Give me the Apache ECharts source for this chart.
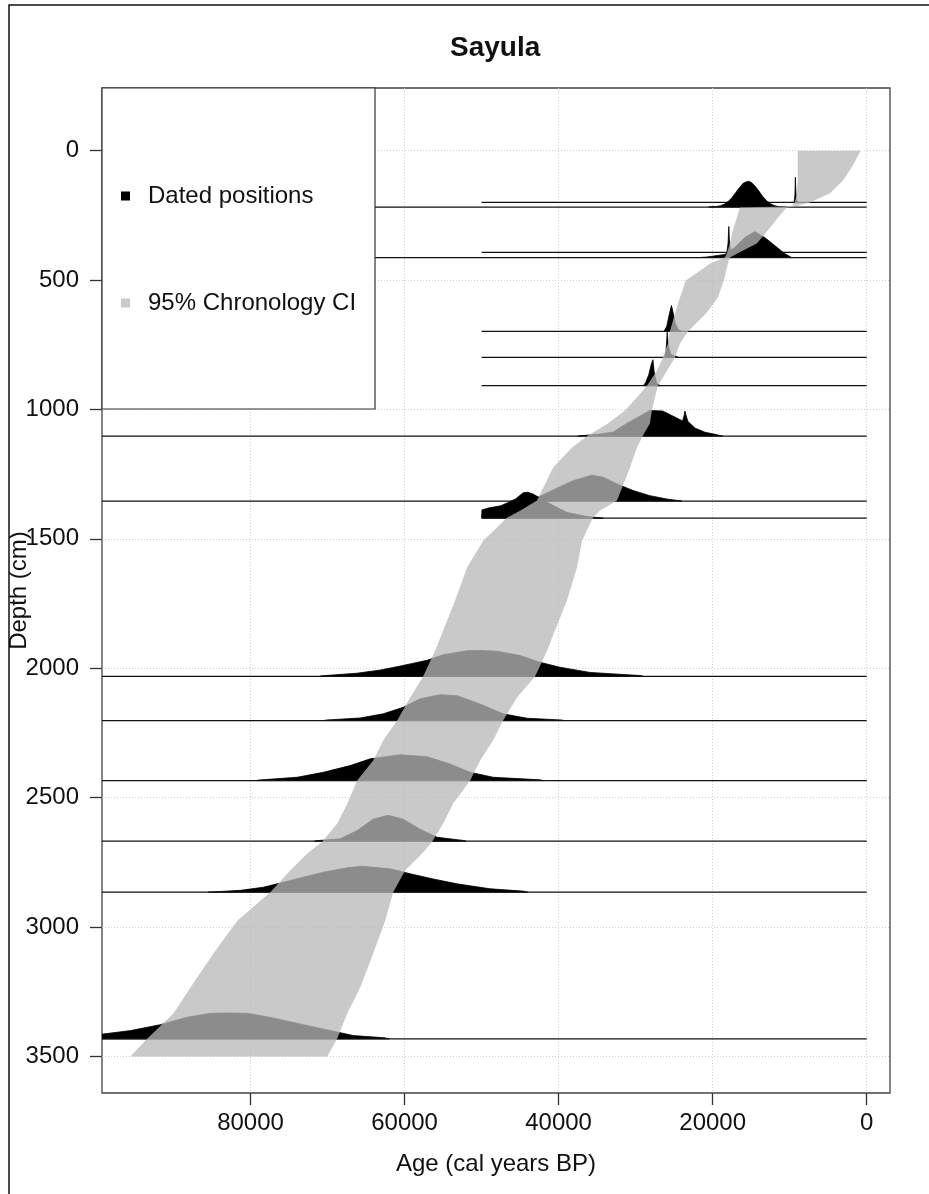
<!DOCTYPE html>
<html><head><meta charset="utf-8">
<script src="https://cdn.jsdelivr.net/npm/echarts@6/dist/echarts.min.js"></script>
<style>html,body{margin:0;padding:0;background:#fff}#chart{width:929px;height:1194px}</style>
</head><body><div id="chart"></div>
<script>
const chartTitle = 'Sayula';
const xName = 'Age (cal years BP)';
const yName = 'Depth (cm)';
const legendNames = ['Dated positions', '95% Chronology CI'];
const xTicks = [0, 20000, 40000, 60000, 80000];
const yTicks = [0, 500, 1000, 1500, 2000, 2500, 3000, 3500];

// dated positions (depth, cm) and oldest age of each date's baseline
const dateDepths = [200, 218, 393, 413, 698, 799, 908, 1103, 1354, 1420, 2031, 2202, 2434, 2668, 2865, 3432];
const dateLineOldest = [50000, 120000, 50000, 120000, 50000, 50000, 50000, 120000, 120000, 50000, 120000, 120000, 120000, 120000, 120000, 120000];

// density outlines: [age, height in cm above the baseline]
const dens200 = [[9420,0],[9320,30],[9260,97],[9200,45],[9120,10],[9000,2],[8850,0]];
const dens218 = [[20500,0],[19500,2],[19000,5],[18500,11],[18000,21],[17500,36],[17000,56],[16500,76],[16000,93],[15400,100],[15000,96],[14500,81],[14000,62],[13500,41],[13000,24],[12500,13],[12000,6],[11500,2],[10500,0]];
const dens393 = [[18150,0],[18000,35],[17900,100],[17830,50],[17700,10],[17500,0]];
const dens413 = [[21700,0],[20750,2],[18420,12],[17120,39],[15820,77],[14530,100],[13230,77],[11930,46],[10640,15],[9730,0]];
const dens698 = [[26300,0],[25950,20],[25600,70],[25350,100],[25150,75],[24850,30],[24450,6],[24000,0]];
const dens799 = [[26250,0],[26050,25],[25900,97],[25750,45],[25450,12],[25050,7],[24650,3],[24400,0]];
const dens908 = [[29000,0],[28700,12],[28300,42],[27950,85],[27750,100],[27600,55],[27300,12],[27000,3],[26800,0]];
const dens1103 = [[37500,0],[36800,2],[34600,8],[32900,16],[31100,50],[29700,73],[28800,88],[28150,99],[26500,97],[24650,70],[23900,58],[23700,80],[23600,97],[23450,80],[23200,56],[22300,31],[21000,15],[19700,7],[18700,0]];
const dens1354 = [[43500,0],[42800,13],[40250,50],[38100,79],[35700,100],[34200,92],[32400,66],[30350,41],[28150,21],[25950,8],[24000,0]];
const dens1420 = [[50000,0],[49950,32],[49000,40],[47500,48],[46600,60],[45600,74],[44600,98],[44000,100],[43300,93],[41500,61],[38900,22],[36300,6],[34200,0]];
const dens2031 = [[71000,0],[70700,2],[66150,12],[63160,24],[60180,42],[57070,62],[54990,83],[51880,99],[50190,100],[47990,97],[45010,80],[42410,54],[39820,35],[35930,15],[29440,3],[29000,0]];
const dens2202 = [[70500,0],[70170,2],[65760,10],[62770,26],[60180,51],[57980,84],[55380,100],[53180,96],[50190,64],[47210,26],[44100,9],[39560,2],[39300,0]];
const dens2434 = [[79300,0],[78990,2],[73930,13],[70560,32],[67060,58],[64460,84],[60570,100],[57070,92],[54080,64],[51490,32],[48510,13],[42410,3],[42000,0]];
const dens2668 = [[71700,0],[71340,2],[68350,9],[66150,41],[64070,85],[62130,100],[60180,85],[57980,46],[55770,15],[52400,3],[52000,0]];
const dens2865 = [[85500,0],[84820,1],[81320,7],[78340,19],[76130,35],[73150,58],[70560,77],[67440,94],[65500,100],[61870,90],[59270,71],[56290,51],[53180,32],[48900,13],[44620,4],[44000,0]];
const dens3432 = [[106000,0],[102000,10],[99100,19],[95590,32],[91700,55],[88200,84],[85210,99],[83000,100],[80410,99],[77040,81],[73150,55],[69260,30],[66670,13],[62520,4],[62000,0]];
const dateDensities = [dens200, dens218, dens393, dens413, dens698, dens799, dens908, dens1103, dens1354, dens1420, dens2031, dens2202, dens2434, dens2668, dens2865, dens3432];

// 95% chronology band
const bandDepths = [0,58,116,166,200,212,216,220,259,309,359,398,413,437,502,568,630,699,746,800,850,908,954,1004,1054,1101,1147,1225,1352,1391,1418,1507,1611,1738,1854,1932,2032,2113,2202,2279,2356,2434,2523,2600,2670,2716,2781,2865,2975,3102,3233,3334,3430,3500];
const bandOldAge = [8950,8950,8950,9080,9340,9600,10300,16470,16860,17380,17770,18160,18420,20360,23480,24250,24900,25550,25810,26460,27240,28530,29830,31390,33590,36190,38260,40730,42800,45010,46690,49800,51880,53440,54990,56030,57590,59270,60960,62770,64070,66150,67440,68740,70690,72630,74840,77430,81710,84820,87800,90010,93380,95590];
const bandYoungAge = [780,1820,3110,4800,7390,8900,9300,10380,11540,12840,14270,16860,17770,18030,18550,19330,20880,23220,24250,24900,25940,27110,27500,27890,28150,29050,29830,30740,32420,34630,35540,36960,37610,38910,40470,41500,43060,45400,47210,48510,50190,51490,53700,54990,56420,57720,59920,61480,62510,64070,65760,67440,68740,70040];

const FONT = 'Liberation Sans';
const chart = echarts.init(document.getElementById('chart'), null, {renderer: 'canvas'});

const dateSeriesData = dateDepths.map((d, i) => [0, d, i]);

const option = {
  animation: false,
  backgroundColor: '#fff',
  title: {
    text: chartTitle, left: 450, top: 34, padding: 0,
    textStyle: {fontFamily: FONT, fontSize: 28, fontWeight: 'bold', color: '#111', lineHeight: 28}
  },
  legend: {
    orient: 'vertical', left: 121, top: 184, padding: 0, itemGap: 83,
    itemWidth: 9, itemHeight: 9, icon: 'rect', selectedMode: false, z: 60,
    textStyle: {fontFamily: FONT, fontSize: 24, color: '#111', lineHeight: 24, padding: [0, 0, 0, 13]},
    data: [
      {name: legendNames[0], itemStyle: {color: '#000'}},
      {name: legendNames[1], itemStyle: {color: '#c9c9c9'}}
    ]
  },
  graphic: [
    {type: 'rect', z: 0, silent: true, shape: {x: 9, y: 5, width: 1000, height: 1300},
     style: {fill: 'none', stroke: '#111', lineWidth: 1.5}},
    {type: 'rect', z: 50, silent: true, shape: {x: 102, y: 88, width: 273, height: 321},
     style: {fill: '#fff', stroke: '#333', lineWidth: 1.2}}
  ],
  grid: {left: 102, right: 39, top: 88, bottom: 101, containLabel: false, outerBoundsMode: 'none',
         show: true, borderColor: '#444', borderWidth: 1.3, backgroundColor: 'transparent'},
  xAxis: {
    type: 'value', inverse: true, min: -3025, max: 99280, splitNumber: 5,
    name: xName, nameLocation: 'middle', nameGap: 59, nameMoveOverlap: false,
    nameTextStyle: {fontFamily: FONT, fontSize: 24, color: '#111', lineHeight: 24},
    axisLine: {show: false, onZero: false},
    axisTick: {show: true, length: 12, lineStyle: {color: '#333', width: 1.3}, customValues: xTicks},
    axisLabel: {margin: 18, fontFamily: FONT, fontSize: 24, color: '#111', lineHeight: 24, customValues: xTicks, formatter: v => String(v)},
    splitLine: {show: true, lineStyle: {color: '#cfcfcf', type: [1, 2], width: 1}}
  },
  yAxis: {
    type: 'value', inverse: true, min: -242, max: 3641, splitNumber: 8,
    name: yName, nameLocation: 'middle', nameGap: 71, nameRotate: 90, nameMoveOverlap: false,
    nameTextStyle: {fontFamily: FONT, fontSize: 24, color: '#111', lineHeight: 24},
    axisLine: {show: false, onZero: false},
    axisTick: {show: true, length: 12, lineStyle: {color: '#333', width: 1.3}, customValues: yTicks},
    axisLabel: {margin: 23, fontFamily: FONT, fontSize: 24, color: '#111', lineHeight: 24, customValues: yTicks, formatter: v => String(v)},
    splitLine: {show: true, lineStyle: {color: '#cfcfcf', type: [1, 2], width: 1}}
  },
  series: [
    {
      name: legendNames[0], type: 'custom', z: 2, clip: true,
      itemStyle: {color: '#000'},
      encode: {x: 0, y: 1},
      data: dateSeriesData,
      renderItem: function (params, api) {
        const i = api.value(2);
        const d = dateDepths[i];
        const dens = dateDensities[i];
        const pts = [api.coord([dens[0][0], d])];
        dens.forEach(p => pts.push(api.coord([p[0], d - p[1]])));
        pts.push(api.coord([dens[dens.length - 1][0], d]));
        const a = api.coord([dateLineOldest[i], d]);
        const b = api.coord([0, d]);
        return {
          type: 'group',
          children: [
            {type: 'polygon', shape: {points: pts}, style: {fill: '#000', stroke: '#000', lineWidth: 0.8}},
            {type: 'line', shape: {x1: a[0], y1: a[1], x2: b[0], y2: b[1]}, style: {stroke: '#111', lineWidth: 1.2}}
          ]
        };
      }
    },
    {
      name: legendNames[1], type: 'custom', z: 3, clip: true,
      itemStyle: {color: '#c9c9c9'},
      encode: {x: 0, y: 1},
      data: [[0, 0]],
      renderItem: function (params, api) {
        const pts = [];
        for (let k = 0; k < bandDepths.length; k++) pts.push(api.coord([bandOldAge[k], bandDepths[k]]));
        for (let k = bandDepths.length - 1; k >= 0; k--) pts.push(api.coord([bandYoungAge[k], bandDepths[k]]));
        return {type: 'polygon', shape: {points: pts}, style: {fill: 'rgba(184,184,184,0.76)'}};
      }
    }
  ]
};
chart.setOption(option);
</script>
</body></html>
